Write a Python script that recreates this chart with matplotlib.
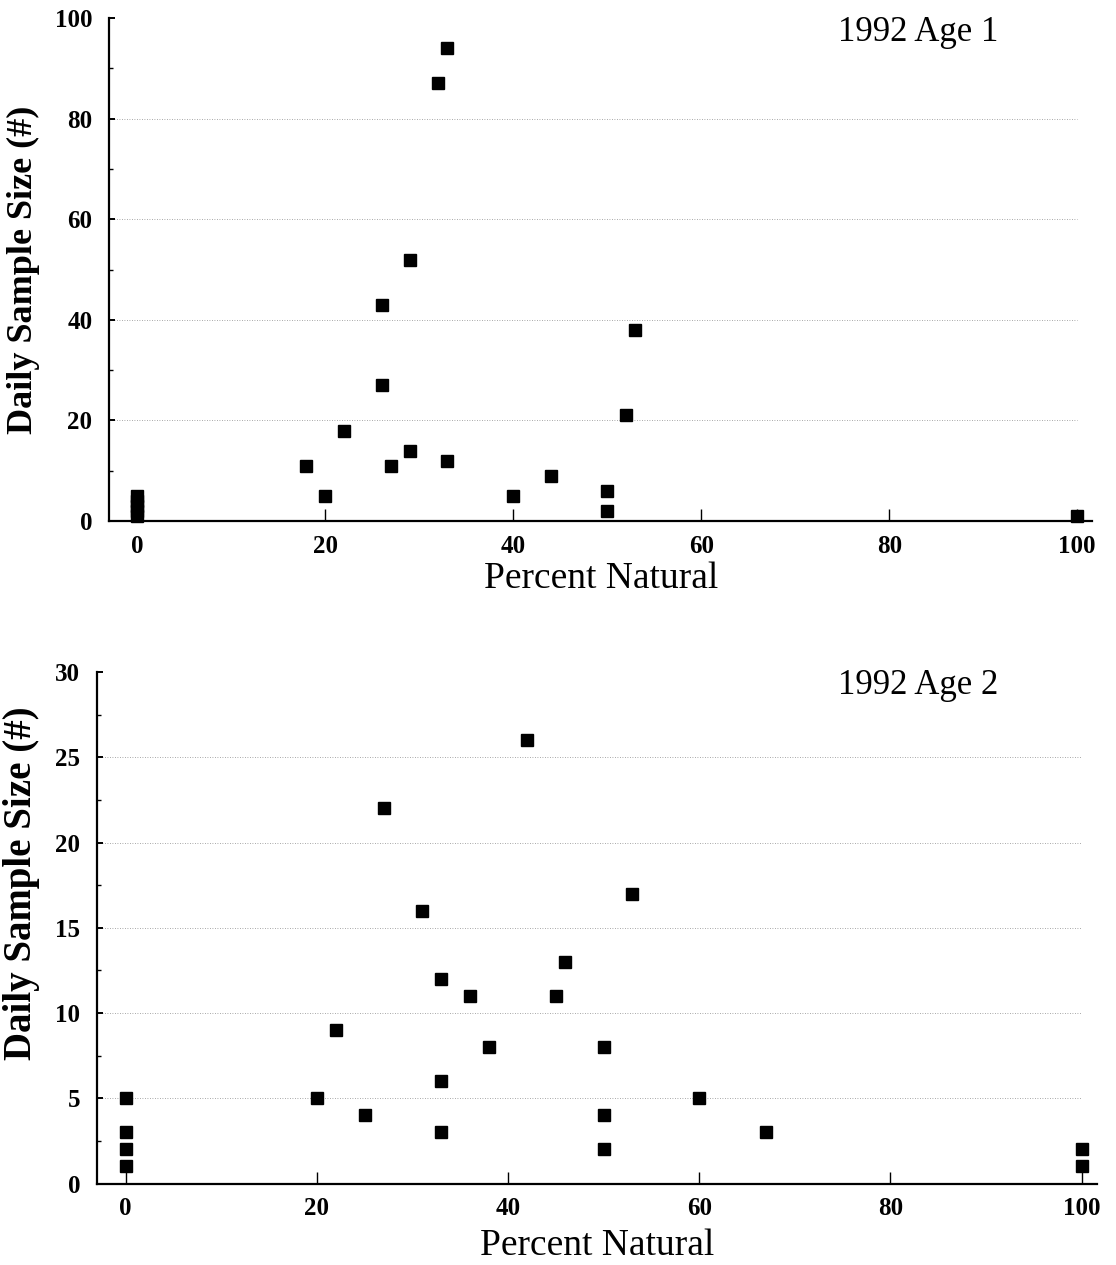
#Scatter of daily sample size against percent natural, 1992 age 1 and age 2
import numpy as np
import matplotlib
matplotlib.use("Agg")
import matplotlib.pyplot as plt
from matplotlib.ticker import MultipleLocator

plt.rcParams['font.family'] = ['Liberation Serif', 'DejaVu Serif']

#1992 age 1 samples
age1_natural = [0, 0, 0, 0, 0, 18, 20, 22, 26, 26, 27, 29, 29, 32, 33, 33, 40, 44, 50, 50, 52, 53, 100]
age1_size = [1, 2, 3, 4, 5, 11, 5, 18, 43, 27, 11, 14, 52, 87, 94, 12, 5, 9, 6, 2, 21, 38, 1]

#1992 age 2 samples
age2_natural = [0, 0, 0, 0, 20, 22, 25, 27, 31, 33, 33, 33, 36, 38, 42, 45, 46, 50, 50, 50, 53, 60, 67, 100, 100]
age2_size = [5, 3, 2, 1, 5, 9, 4, 22, 16, 12, 6, 3, 11, 8, 26, 11, 13, 8, 4, 2, 17, 5, 3, 2, 1]

x_ticks = [0, 20, 40, 60, 80, 100]
x_label = "Percent Natural"
y_label = "Daily Sample Size (#)"


def draw_panel(ax, x, y, ymax, ystep, title, title_y, ylabel_coords, ylabel_size, xlabel_y):
    ax.plot(x, y, 's', color='black', markersize=9, clip_on=False, zorder=3)
    ax.set_xlim(-3, 101.6)
    ax.set_ylim(0, ymax)
    ax.set_xticks(x_ticks)
    ax.yaxis.set_major_locator(MultipleLocator(ystep))
    ax.yaxis.set_minor_locator(MultipleLocator(ystep / 2))

    #faint dotted lines at the inner y ticks
    for v in np.arange(ystep, ymax, ystep):
        ax.axhline(v, xmax=0.985, color='0.55', linestyle=(0, (1, 2)), linewidth=0.6, zorder=1)

    for side in ['top', 'right']:
        ax.spines[side].set_visible(False)
    for side in ['left', 'bottom']:
        ax.spines[side].set_linewidth(1.6)

    ax.tick_params(axis='x', direction='in', length=9, width=1, pad=10, labelsize=18)
    ax.tick_params(axis='y', which='major', direction='in', length=4, width=1.4, pad=12, labelsize=18)
    ax.tick_params(axis='y', which='minor', direction='in', length=3, width=1)
    for lab in ax.get_xticklabels() + ax.get_yticklabels():
        lab.set_fontweight('bold')

    ax.set_xlabel(x_label, fontsize=27)
    ax.xaxis.set_label_coords(0.5, xlabel_y)
    ax.set_ylabel(y_label, fontsize=ylabel_size, fontweight='bold')
    ax.yaxis.set_label_coords(*ylabel_coords)

    ax.text(74.5, title_y, title, fontsize=25, va='center', ha='left')


fig = plt.figure(figsize=(11.16, 12.65), dpi=100)
ax1 = fig.add_axes([0.0977, 0.5881, 0.881, 0.3976])
ax2 = fig.add_axes([0.0869, 0.0644, 0.896, 0.4043])

draw_panel(ax1, age1_natural, age1_size, 100, 20, "1992 Age 1", 97.2, (-0.070, 0.5), 26, -0.08)
draw_panel(ax2, age2_natural, age2_size, 30, 5, "1992 Age 2", 29.2, (-0.057, 0.588), 28, -0.087)

fig.savefig("out.png", dpi=100)
